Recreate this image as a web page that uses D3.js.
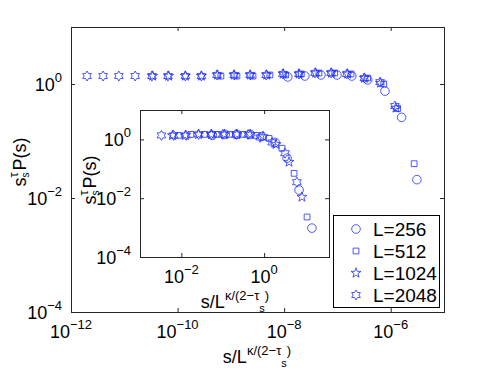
<!DOCTYPE html>
<html>
<head>
<meta charset="utf-8">
<script src="https://cdn.jsdelivr.net/npm/d3@7"></script>
<style>
body { margin: 0; background: #fff; }
text { font-family: "Liberation Sans", Arial, sans-serif; fill: #000; }
</style>
</head>
<body>
<div id="chart"></div>
<script>
// legend + marker order
const seriesNames = ["L=256", "L=512", "L=1024", "L=2048"];
const markerTypes = ["circle", "square", "pentagram", "hexagram"];

// main plot data
const mainX256 = [1.17e-8, 2.45e-8, 4.9e-8, 9.8e-8, 1.86e-7, 3.7e-7, 7.8e-7, 1.6e-6, 3.1e-6];
const mainY256 = [1.33, 1.38, 1.44, 1.44, 1.38, 1.18, 0.75, 0.26, 0.021];
const mainX512 = [6.5e-10, 1.3e-9, 2.6e-9, 5.4e-9, 1.07e-8, 2.1e-8, 4.5e-8, 8.9e-8, 1.8e-7, 3.7e-7, 7.4e-7, 1.35e-6, 2.75e-6];
const mainY512 = [1.38, 1.38, 1.38, 1.44, 1.44, 1.50, 1.56, 1.56, 1.50, 1.27, 1.0, 0.37, 0.040];
const mainX1024 = [3.4e-11, 6.8e-11, 1.4e-10, 2.8e-10, 5.6e-10, 1.15e-9, 2.3e-9, 4.7e-9, 9.6e-9, 1.9e-8, 3.9e-8, 7.7e-8, 1.55e-7, 3.2e-7, 6.4e-7, 1.25e-6];
const mainY1024 = [1.38, 1.38, 1.38, 1.38, 1.44, 1.44, 1.44, 1.44, 1.50, 1.50, 1.56, 1.56, 1.50, 1.27, 1.04, 0.38];
const mainX2048 = [2.0e-12, 4.0e-12, 7.9e-12, 1.6e-11, 3.3e-11, 6.6e-11, 1.4e-10, 2.8e-10, 5.5e-10, 1.15e-9, 2.3e-9, 4.6e-9, 9.5e-9, 1.9e-8, 3.8e-8, 7.6e-8, 1.5e-7, 3.2e-7, 6.3e-7, 1.2e-6];
const mainY2048 = [1.38, 1.38, 1.38, 1.38, 1.38, 1.38, 1.38, 1.38, 1.44, 1.44, 1.44, 1.44, 1.50, 1.50, 1.56, 1.56, 1.50, 1.27, 1.08, 0.41];

// inset data
const insetX256 = [0.056, 0.115, 0.22, 0.46, 0.89, 1.84, 3.6, 7.0, 14.3];
const insetY256 = [1.37, 1.48, 1.48, 1.48, 1.26, 0.79, 0.23, 0.019, 0.00096];
const insetX512 = [0.0085, 0.017, 0.036, 0.074, 0.15, 0.31, 0.64, 1.32, 2.7, 5.3, 10.9];
const insetY512 = [1.37, 1.48, 1.48, 1.48, 1.48, 1.48, 1.37, 1.08, 0.50, 0.070, 0.0023];
const insetX1024 = [0.0061, 0.0125, 0.026, 0.053, 0.11, 0.22, 0.46, 0.95, 1.94, 4.0, 8.2];
const insetY1024 = [1.37, 1.37, 1.48, 1.48, 1.48, 1.48, 1.48, 1.26, 0.68, 0.17, 0.011];
const insetX2048 = [0.0033, 0.0065, 0.013, 0.026, 0.053, 0.10, 0.21, 0.41, 0.80, 1.56, 3.2, 6.2];
const insetY2048 = [1.37, 1.37, 1.37, 1.48, 1.48, 1.48, 1.48, 1.48, 1.17, 0.79, 0.34, 0.035];

// tick values
const mainXTicks = [1e-12, 1e-10, 1e-8, 1e-6];
const mainYTicks = [1e-4, 1e-2, 1e0];
const insetXTicks = [1e-2, 1e0];
const insetYTicks = [1e-4, 1e-2, 1e0];

const mainSeries = [[mainX256, mainY256], [mainX512, mainY512], [mainX1024, mainY1024], [mainX2048, mainY2048]];
const insetSeries = [[insetX256, insetY256], [insetX512, insetY512], [insetX1024, insetY1024], [insetX2048, insetY2048]];

const W = 491, H = 368;
const blue = "#1f2fff";

const svg = d3.select("#chart").append("svg")
    .attr("width", W)
    .attr("height", H);

function markerPath(type, r) {
    if (type === "circle") return d3.symbol(d3.symbolCircle, Math.PI * r * r)();
    if (type === "square") return d3.symbol(d3.symbolSquare, (1.6 * r) * (1.6 * r))();
    let n = type === "pentagram" ? 5 : 6;
    let inner = type === "pentagram" ? r * 0.4 : r / Math.sqrt(3);
    let pts = d3.range(2 * n).map(function (i) {
        let a = Math.PI * i / n - Math.PI / 2;
        let rr = i % 2 ? inner : r;
        return [rr * Math.cos(a), rr * Math.sin(a)];
    });
    return d3.line()(pts) + "Z";
}
const markerR = { circle: 4.3, square: 3.6, pentagram: 5.2, hexagram: 5.0 };

function expLabel(text, v) {
    let e = Math.round(Math.log10(v));
    text.append("tspan").text("10");
    text.append("tspan")
        .attr("dy", -9)
        .attr("font-size", 13)
        .text(e < 0 ? "\u2212" + (-e) : String(e));
}

// draws a log-log axes box with inward ticks, tick labels and markers
function drawAxes(g, x, y, xt, yt, series, fill) {
    let [x0, x1] = x.range();
    let [y0, y1] = y.range();

    g.append("rect")
        .attr("x", x0).attr("y", y1)
        .attr("width", x1 - x0).attr("height", y0 - y1)
        .attr("fill", fill ? "#fff" : "none")
        .attr("stroke", "none");

    let noLab = function () { return ""; };
    let axes = [
        [d3.axisBottom(x), y0, 0], [d3.axisTop(x), y1, 0],
        [d3.axisLeft(y), 0, x0], [d3.axisRight(y), 0, x1]
    ];
    axes.forEach(function (a, i) {
        let ax = a[0].tickValues(i < 2 ? xt : yt).tickSizeInner(-4).tickSizeOuter(0).tickFormat(noLab);
        let gg = g.append("g")
            .attr("transform", "translate(" + a[2] + "," + a[1] + ")")
            .call(ax);
        gg.select(".domain").remove();
        gg.selectAll("line").attr("stroke", "#262626");
    });

    g.append("rect")
        .attr("x", x0 + 0.5).attr("y", y1 + 0.5)
        .attr("width", x1 - x0).attr("height", y0 - y1)
        .attr("fill", "none")
        .attr("stroke", "#262626")
        .attr("stroke-width", 1);

    xt.forEach(function (v) {
        let t = g.append("text")
            .attr("x", x(v)).attr("y", y0 + 26)
            .attr("text-anchor", "middle")
            .attr("font-size", 18);
        expLabel(t, v);
    });
    yt.forEach(function (v) {
        let t = g.append("text")
            .attr("x", x0 - 9).attr("y", y(v) + 7)
            .attr("text-anchor", "end")
            .attr("font-size", 18);
        expLabel(t, v);
    });

    series.forEach(function (s, k) {
        let pts = s[0].map(function (xv, i) { return [xv, s[1][i]]; });
        g.append("g").selectAll("path")
            .data(pts)
            .join("path")
            .attr("transform", function (d) { return "translate(" + x(d[0]) + "," + y(d[1]) + ")"; })
            .attr("d", markerPath(markerTypes[k], markerR[markerTypes[k]]))
            .attr("fill", "none")
            .attr("stroke", blue)
            .attr("stroke-width", 0.8);
    });
}

function xTitle(g, cx, by) {
    let t = g.append("text")
        .attr("x", cx).attr("y", by)
        .attr("text-anchor", "middle")
        .attr("font-size", 18);
    t.append("tspan").text("s/L");
    t.append("tspan").attr("dy", -8).attr("font-size", 13).text("\u03ba/(2\u2212\u03c4");
    t.append("tspan").attr("dy", 12).attr("font-size", 11).text("s");
    t.append("tspan").attr("dy", -12).attr("font-size", 13).text(")");
}

function yTitle(g, cx, cy) {
    let t = g.append("text")
        .attr("transform", "translate(" + cx + "," + cy + ") rotate(-90)")
        .attr("text-anchor", "middle")
        .attr("font-size", 18);
    t.append("tspan").text("s");
    t.append("tspan").attr("dy", -8).attr("font-size", 13).text("\u03c4");
    t.append("tspan").attr("dx", -5).attr("dy", 11).attr("font-size", 10).text("s");
    t.append("tspan").attr("dy", -3).attr("dx", 2).text("P(s)");
}

// main axes
const x = d3.scaleLog().domain([1e-12, 1e-5]).range([71, 444]);
const y = d3.scaleLog().domain([1e-4, 1e1]).range([312, 27]);
const gMain = svg.append("g");
drawAxes(gMain, x, y, mainXTicks, mainYTicks, mainSeries, false);
xTitle(gMain, 257, 363);
yTitle(gMain, 26, 162);

// inset axes
const xi = d3.scaleLog().domain([1e-3, 37]).range([140, 329]);
const yi = d3.scaleLog().domain([1e-4, 1e1]).range([257, 110]);
const gIn = svg.append("g");
drawAxes(gIn, xi, yi, insetXTicks, insetYTicks, insetSeries, true);
xTitle(gIn, 235, 308);
yTitle(gIn, 96, 180);

// legend
const lg = svg.append("g");
lg.append("rect")
    .attr("x", 333.5).attr("y", 215.5)
    .attr("width", 106).attr("height", 92)
    .attr("fill", "#fff")
    .attr("stroke", "#000");
seriesNames.forEach(function (name, k) {
    let cy = 229 + k * 22;
    lg.append("path")
        .attr("transform", "translate(356," + cy + ")")
        .attr("d", markerPath(markerTypes[k], markerR[markerTypes[k]]))
        .attr("fill", "none")
        .attr("stroke", blue)
        .attr("stroke-width", 0.8);
    lg.append("text")
        .attr("x", 373).attr("y", cy + 7)
        .attr("font-size", 19)
        .text(name);
});
</script>
</body>
</html>
